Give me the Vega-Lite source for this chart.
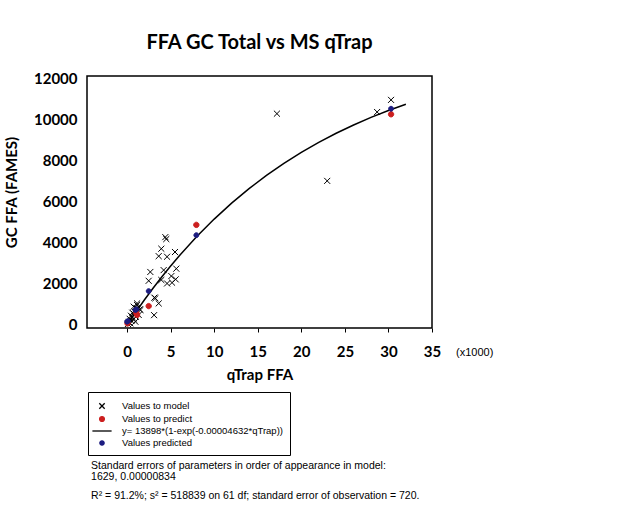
{
  "$schema": "https://vega.github.io/schema/vega-lite/v6.json",
  "autosize": "none",
  "width": 345,
  "height": 252,
  "padding": {"left": 87, "top": 76, "right": 200, "bottom": 184},
  "background": "white",
  "title": {"text": "FFA GC Total vs MS qTrap", "font": "Lato", "fontSize": 20, "fontWeight": "bold", "anchor": "middle", "frame": "group", "offset": 18, "color": "black"},
  "datasets": {
    "curve": [
      {"x": 0, "y": 0, "series": "y= 13898*(1-exp(-0.00004632*qTrap))"},
      {"x": 1, "y": 629, "series": "y= 13898*(1-exp(-0.00004632*qTrap))"},
      {"x": 2, "y": 1230, "series": "y= 13898*(1-exp(-0.00004632*qTrap))"},
      {"x": 3, "y": 1803, "series": "y= 13898*(1-exp(-0.00004632*qTrap))"},
      {"x": 4, "y": 2351, "series": "y= 13898*(1-exp(-0.00004632*qTrap))"},
      {"x": 5, "y": 2873, "series": "y= 13898*(1-exp(-0.00004632*qTrap))"},
      {"x": 6, "y": 3372, "series": "y= 13898*(1-exp(-0.00004632*qTrap))"},
      {"x": 8, "y": 4304, "series": "y= 13898*(1-exp(-0.00004632*qTrap))"},
      {"x": 10, "y": 5152, "series": "y= 13898*(1-exp(-0.00004632*qTrap))"},
      {"x": 12, "y": 5926, "series": "y= 13898*(1-exp(-0.00004632*qTrap))"},
      {"x": 14, "y": 6631, "series": "y= 13898*(1-exp(-0.00004632*qTrap))"},
      {"x": 16, "y": 7274, "series": "y= 13898*(1-exp(-0.00004632*qTrap))"},
      {"x": 18, "y": 7860, "series": "y= 13898*(1-exp(-0.00004632*qTrap))"},
      {"x": 20, "y": 8395, "series": "y= 13898*(1-exp(-0.00004632*qTrap))"},
      {"x": 22, "y": 8882, "series": "y= 13898*(1-exp(-0.00004632*qTrap))"},
      {"x": 24, "y": 9325, "series": "y= 13898*(1-exp(-0.00004632*qTrap))"},
      {"x": 26, "y": 9730, "series": "y= 13898*(1-exp(-0.00004632*qTrap))"},
      {"x": 28, "y": 10099, "series": "y= 13898*(1-exp(-0.00004632*qTrap))"},
      {"x": 30, "y": 10435, "series": "y= 13898*(1-exp(-0.00004632*qTrap))"},
      {"x": 32, "y": 10741, "series": "y= 13898*(1-exp(-0.00004632*qTrap))"}
    ],
    "points": [
      {"x": 17.2, "y": 10280, "series": "Values to model"},
      {"x": 30.3, "y": 10950, "series": "Values to model"},
      {"x": 28.7, "y": 10360, "series": "Values to model"},
      {"x": 22.97, "y": 7010, "series": "Values to model"},
      {"x": 4.39, "y": 4275, "series": "Values to model"},
      {"x": 4.5, "y": 4180, "series": "Values to model"},
      {"x": 3.93, "y": 3710, "series": "Values to model"},
      {"x": 3.63, "y": 3350, "series": "Values to model"},
      {"x": 4.59, "y": 3320, "series": "Values to model"},
      {"x": 5.5, "y": 3550, "series": "Values to model"},
      {"x": 2.67, "y": 2580, "series": "Values to model"},
      {"x": 4.2, "y": 2670, "series": "Values to model"},
      {"x": 5.65, "y": 2740, "series": "Values to model"},
      {"x": 2.48, "y": 2150, "series": "Values to model"},
      {"x": 3.93, "y": 2190, "series": "Values to model"},
      {"x": 5.08, "y": 2380, "series": "Values to model"},
      {"x": 4.59, "y": 2020, "series": "Values to model"},
      {"x": 5.16, "y": 2060, "series": "Values to model"},
      {"x": 5.58, "y": 2220, "series": "Values to model"},
      {"x": 3.13, "y": 1330, "series": "Values to model"},
      {"x": 3.63, "y": 1050, "series": "Values to model"},
      {"x": 3.1, "y": 480, "series": "Values to model"},
      {"x": 3.25, "y": 1300, "series": "Values to model"},
      {"x": 0.76, "y": 890, "series": "Values to model"},
      {"x": 1.15, "y": 1050, "series": "Values to model"},
      {"x": 1.53, "y": 730, "series": "Values to model"},
      {"x": 0.57, "y": 400, "series": "Values to model"},
      {"x": 0.95, "y": 160, "series": "Values to model"},
      {"x": 0.38, "y": 80, "series": "Values to model"},
      {"x": 0.76, "y": 550, "series": "Values to model"},
      {"x": 1.07, "y": 810, "series": "Values to model"},
      {"x": 0.87, "y": 650, "series": "Values to model"},
      {"x": 1.45, "y": 760, "series": "Values to model"},
      {"x": 1.33, "y": 490, "series": "Values to model"},
      {"x": 0.76, "y": 280, "series": "Values to model"},
      {"x": 1.15, "y": 970, "series": "Values to model"},
      {"x": 0.2, "y": 150, "series": "Values to model"},
      {"x": 0.3, "y": 300, "series": "Values to model"},
      {"x": 0.5, "y": 200, "series": "Values to model"},
      {"x": 0.1, "y": 50, "series": "Values to model"},
      {"x": 0.6, "y": 600, "series": "Values to model"},
      {"x": 1.0, "y": 400, "series": "Values to model"},
      {"x": 0.45, "y": 450, "series": "Values to model"},
      {"x": 0.25, "y": 100, "series": "Values to model"},
      {"x": 30.3, "y": 10250, "series": "Values to predict"},
      {"x": 7.95, "y": 4870, "series": "Values to predict"},
      {"x": 2.48, "y": 920, "series": "Values to predict"},
      {"x": 1.07, "y": 570, "series": "Values to predict"},
      {"x": 1.15, "y": 490, "series": "Values to predict"},
      {"x": 0.05, "y": 80, "series": "Values to predict"},
      {"x": 30.3, "y": 10520, "series": "Values predicted"},
      {"x": 7.95, "y": 4370, "series": "Values predicted"},
      {"x": 2.48, "y": 1650, "series": "Values predicted"},
      {"x": 1.07, "y": 760, "series": "Values predicted"},
      {"x": 0.95, "y": 730, "series": "Values predicted"},
      {"x": 0.1, "y": 190, "series": "Values predicted"},
      {"x": 0.0, "y": 160, "series": "Values predicted"}
    ]
  },
  "layer": [
    {
      "data": {"name": "curve"},
      "mark": {"type": "line", "strokeWidth": 1.5},
      "encoding": {
        "x": {"field": "x", "type": "quantitative",
          "scale": {"domain": [-4.6, 35], "nice": false, "zero": false},
          "axis": {"values": [0, 5, 10, 15, 20, 25, 30, 35], "grid": false, "domain": false, "ticks": true, "tickSize": 4, "tickColor": "black", "tickWidth": 1,
            "labelFont": "Lato", "labelFontSize": 15, "labelFontWeight": "bold", "labelColor": "black", "labelPadding": 12,
            "title": "qTrap FFA", "titleFont": "Lato", "titleFontSize": 15, "titleFontWeight": "bold", "titleColor": "black", "titlePadding": 8}},
        "y": {"field": "y", "type": "quantitative",
          "scale": {"domain": [-146, 12112], "nice": false, "zero": false},
          "axis": {"values": [0, 2000, 4000, 6000, 8000, 10000, 12000], "format": "d", "grid": false, "domain": false, "ticks": false,
            "labelFont": "Lato", "labelFontSize": 15, "labelFontWeight": "bold", "labelColor": "black", "labelPadding": 10,
            "title": "GC FFA (FAMES)", "titleFont": "Lato", "titleFontSize": 15, "titleFontWeight": "bold", "titleColor": "black",
            "titleAngle": -90, "titleAlign": "center", "titleBaseline": "middle", "titleX": -76, "titleY": 116}},
        "stroke": {"field": "series", "type": "nominal",
          "scale": {"domain": ["Values to model", "Values to predict", "y= 13898*(1-exp(-0.00004632*qTrap))", "Values predicted"], "range": ["black", "#cc1f1f", "black", "#1c1c80"]},
          "legend": {"title": null, "orient": "none", "legendX": 1, "legendY": 316, "strokeColor": "black", "padding": 7, "symbolSize": 144, "labelFont": "Liberation Sans", "labelFontSize": 9.5, "labelLimit": 400, "labelColor": "black", "labelOffset": 13, "rowPadding": 0, "symbolStrokeWidth": 1.3}}
      }
    },
    {
      "data": {"name": "points"},
      "mark": {"type": "point", "size": 180, "strokeWidth": 1, "opacity": 1},
      "encoding": {
        "x": {"field": "x", "type": "quantitative"},
        "y": {"field": "y", "type": "quantitative"},
        "fill": {"field": "series", "type": "nominal",
          "scale": {"domain": ["Values to model", "Values to predict", "y= 13898*(1-exp(-0.00004632*qTrap))", "Values predicted"], "range": ["black", "#cc1f1f", "black", "#1c1c80"]},
          "legend": {"title": null, "orient": "none", "legendX": 1, "legendY": 316, "strokeColor": "black", "padding": 7, "symbolSize": 144, "labelFont": "Liberation Sans", "labelFontSize": 9.5, "labelLimit": 400, "labelColor": "black", "labelOffset": 13, "rowPadding": 0, "symbolStrokeWidth": 1.3}},
        "stroke": {"field": "series", "type": "nominal",
          "legend": {"title": null, "orient": "none", "legendX": 1, "legendY": 316, "strokeColor": "black", "padding": 7, "symbolSize": 144, "labelFont": "Liberation Sans", "labelFontSize": 9.5, "labelLimit": 400, "labelColor": "black", "labelOffset": 13, "rowPadding": 0, "symbolStrokeWidth": 1.3}},
        "shape": {"field": "series", "type": "nominal",
          "scale": {"domain": ["Values to model", "Values to predict", "y= 13898*(1-exp(-0.00004632*qTrap))", "Values predicted"],
            "range": ["M-0.45,-0.45L0.45,0.45M-0.45,0.45L0.45,-0.45", "M-0.4,0A0.4,0.4 0 1,0 0.4,0A0.4,0.4 0 1,0 -0.4,0Z", "M-1.6,0L1.6,0", "M-0.36,0A0.36,0.36 0 1,0 0.36,0A0.36,0.36 0 1,0 -0.36,0Z"]},
          "legend": {"title": null, "orient": "none", "legendX": 1, "legendY": 316, "strokeColor": "black", "padding": 7, "symbolSize": 144, "labelFont": "Liberation Sans", "labelFontSize": 9.5, "labelLimit": 400, "labelColor": "black", "labelOffset": 13, "rowPadding": 0, "symbolStrokeWidth": 1.3}}
      }
    },
    {
      "data": {"values": [{}]},
      "mark": {"type": "text", "text": "(x1000)", "font": "Liberation Sans", "fontSize": 11, "align": "center", "baseline": "middle", "color": "black"},
      "encoding": {"x": {"datum": 39.9}, "y": {"datum": -1360}}
    },
    {
      "data": {"values": [{}]},
      "mark": {"type": "text", "text": "Standard errors of parameters  in order of appearance in model:", "font": "Liberation Sans", "fontSize": 10.5, "align": "left", "baseline": "middle", "color": "black"},
      "encoding": {"x": {"datum": -4.13}, "y": {"datum": -6850}}
    },
    {
      "data": {"values": [{}]},
      "mark": {"type": "text", "text": "1629, 0.00000834", "font": "Liberation Sans", "fontSize": 10.5, "align": "left", "baseline": "middle", "color": "black"},
      "encoding": {"x": {"datum": -4.13}, "y": {"datum": -7413}}
    },
    {
      "data": {"values": [{}]},
      "mark": {"type": "text", "text": "R² = 91.2%; s² = 518839 on 61 df; standard error of observation = 720.", "font": "Liberation Sans", "fontSize": 10.5, "align": "left", "baseline": "middle", "color": "black"},
      "encoding": {"x": {"datum": -4.13}, "y": {"datum": -8307}}
    }
  ],
  "config": {
    "view": {"stroke": "black", "strokeWidth": 1.5},
    "axis": {"labelFlush": false, "labelOverlap": false}
  }
}
